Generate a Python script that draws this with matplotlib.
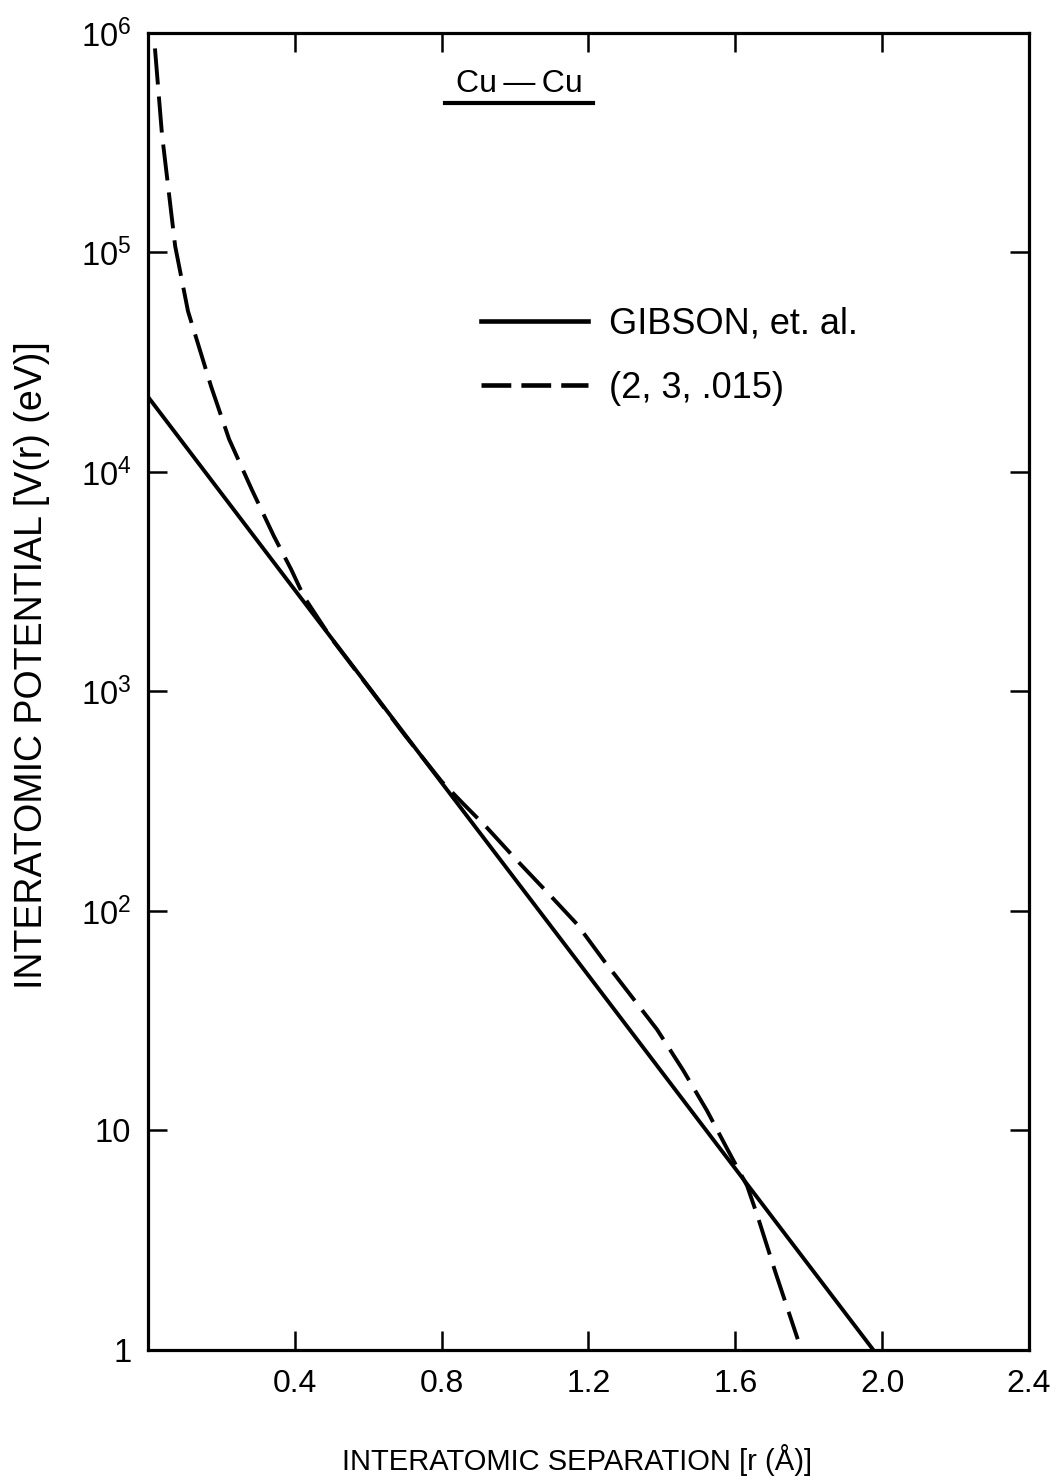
import numpy as np
import matplotlib.pyplot as plt
from matplotlib.lines import Line2D

plt.rcParams['font.family'] = ['Liberation Sans', 'DejaVu Sans']
plt.rcParams['mathtext.fontset'] = 'custom'
plt.rcParams['mathtext.rm'] = 'Liberation Sans'
plt.rcParams['mathtext.it'] = 'Liberation Sans:italic'

# Gibson et al. potential (straight on the log scale)
gibson_r = np.array([0.0, 0.4, 0.8, 1.2, 1.6, 1.976])
gibson_v = np.array([2.2e4, 2.9e3, 3.84e2, 5.08e1, 6.7, 1.0])

# (2, 3, .015) curve
fit_r = np.array([0.019, 0.038, 0.074, 0.109, 0.172, 0.221, 0.283, 0.343, 0.39, 0.425, 0.5, 0.6,
                  0.7, 0.8, 0.858, 0.923, 1.005, 1.087, 1.169, 1.24, 1.313, 1.387, 1.458, 1.523,
                  1.577, 1.632, 1.66, 1.71, 1.77])
fit_v = np.array([8.5e5, 3.47e5, 1.07e5, 5.4e4, 2.45e4, 1.41e4, 8.3e3, 5.1e3, 3.6e3, 2.7e3,
                  1.74e3, 1.05e3, 6.31e2, 3.89e2, 3.09e2, 2.40e2, 1.70e2, 1.22e2, 8.7e1, 6.0e1,
                  4.17e1, 2.88e1, 1.88e1, 1.23e1, 8.3, 5.6, 4.1, 2.24, 1.12])

yticks = [1, 10, 1e2, 1e3, 1e4, 1e5, 1e6]
yticklabels = ['1', '10', r'$10^{2}$', r'$10^{3}$', r'$10^{4}$', r'$10^{5}$', r'$10^{6}$']
xticks = [0.4, 0.8, 1.2, 1.6, 2.0, 2.4]
xticklabels = ['0.4', '0.8', '1.2', '1.6', '2.0', '2.4']

fig = plt.figure(figsize=(10.57, 14.84), dpi=100)
ax = fig.add_axes([0.140, 0.0903, 0.8335, 0.8875])

ax.semilogy(gibson_r, gibson_v, color='black', linewidth=2.8)
ax.semilogy(fit_r, fit_v, color='black', linewidth=2.8, dashes=(9.3, 3.1))

ax.set_xlim(0, 2.4)
ax.set_ylim(1, 1e6)
ax.set_xticks(xticks)
ax.set_xticklabels(xticklabels, fontsize=23)
ax.set_yticks(yticks)
ax.set_yticklabels(yticklabels, fontsize=23.5)
ax.minorticks_off()
ax.tick_params(direction='in', top=True, right=True, length=14, width=1.8)
ax.tick_params(axis='x', pad=14)
ax.tick_params(axis='y', pad=12)
for s in ax.spines.values():
    s.set_linewidth(2.3)

ax.set_xlabel('INTERATOMIC SEPARATION [r (Å)]', fontsize=21)
ax.xaxis.set_label_coords(0.487, -0.071)
ax.set_ylabel('INTERATOMIC POTENTIAL [V(r) (eV)]', fontsize=27)
ax.yaxis.set_label_coords(-0.111, 0.52)

ax.text(0.422, 0.961, 'Cu\u2009\u2014\u2009Cu', transform=ax.transAxes, fontsize=23,
        ha='center', va='center')
ax.plot([0.337, 0.505], [0.947, 0.947], transform=ax.transAxes, color='black',
        linewidth=3.0, clip_on=False)

handles = [Line2D([], [], color='black', linewidth=3.3),
           Line2D([], [], color='black', linewidth=3.3, dashes=(6.5, 2.2))]
ax.legend(handles, ['GIBSON, et. al.', '(2, 3, .015)'], loc='center left',
          bbox_to_anchor=(0.378, 0.7545), frameon=False, fontsize=26,
          handlelength=2.95, handletextpad=0.6, labelspacing=0.82,
          borderpad=0, borderaxespad=0)

fig.savefig('out.png', dpi=100)
